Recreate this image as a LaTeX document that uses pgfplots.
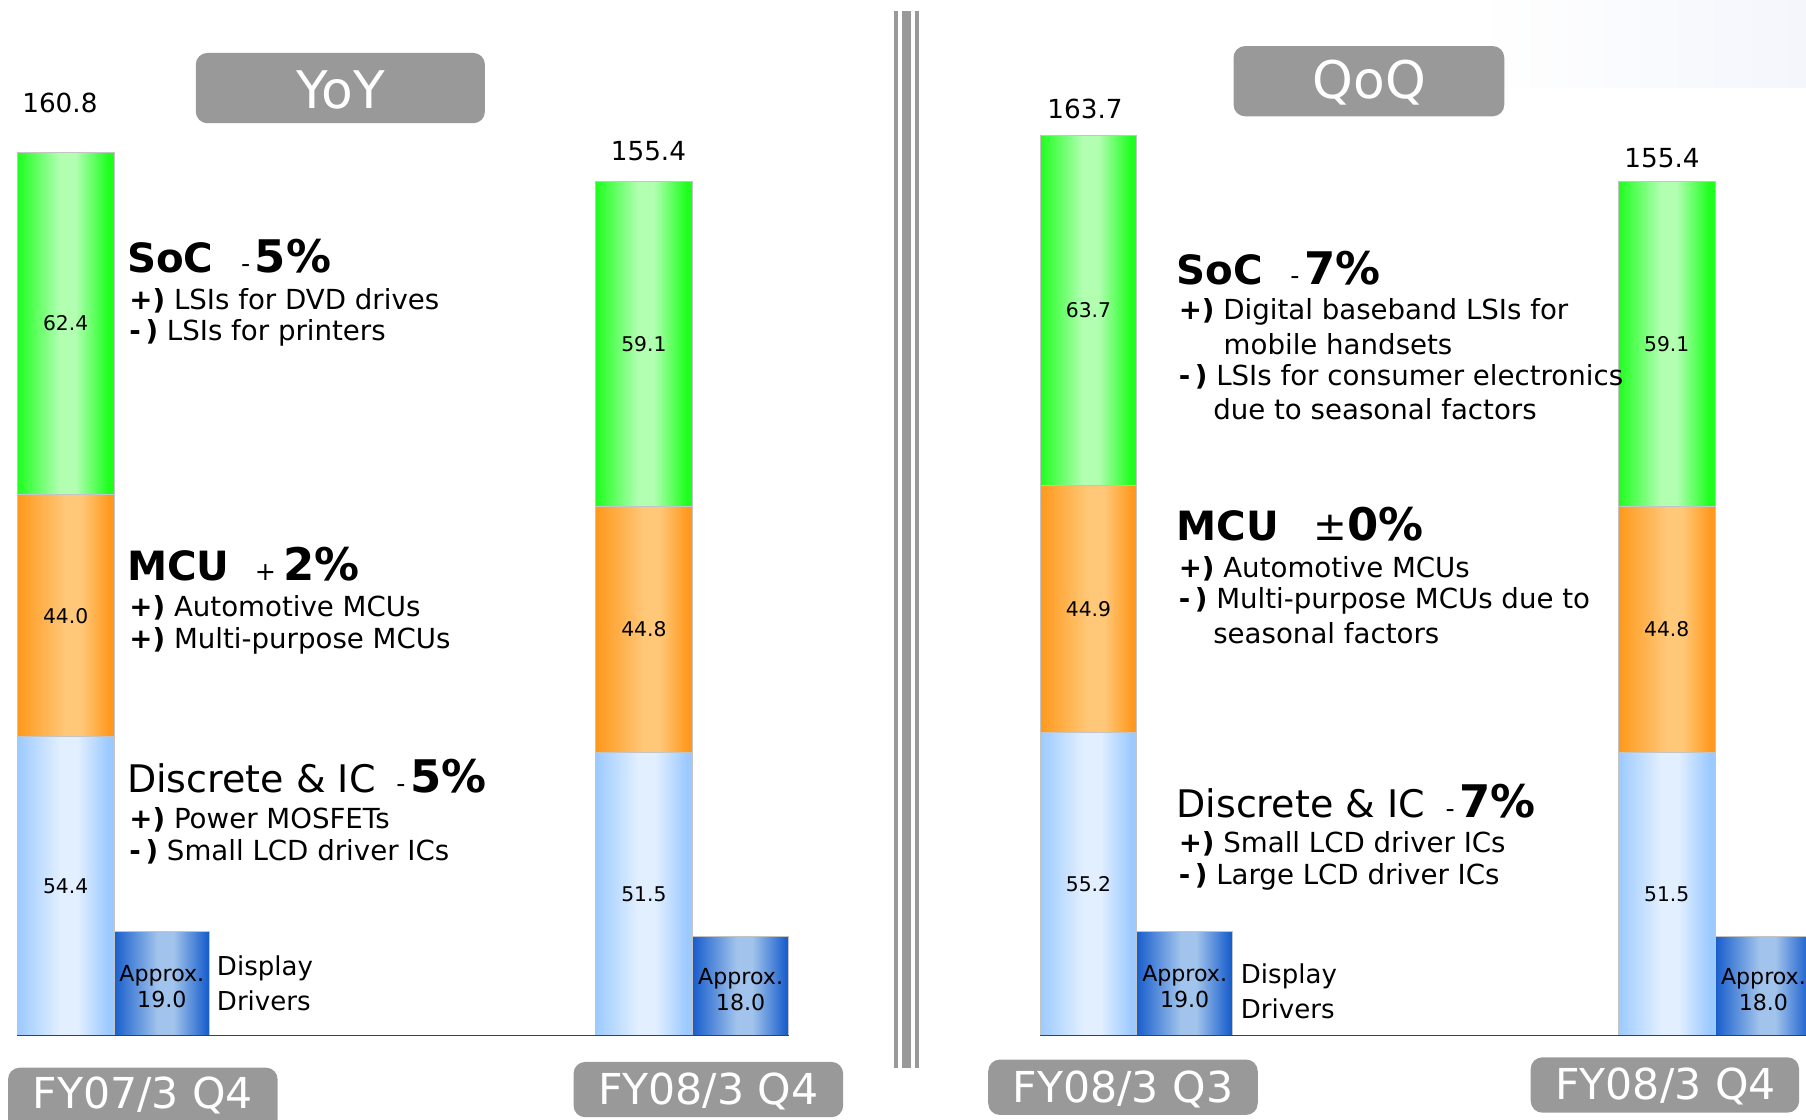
\documentclass[border=0pt]{standalone}
\usepackage{fontspec}
\setmainfont{DejaVu Sans}
\usepackage{pgfplots}
\usepackage{pgfplotstable}
\pgfplotsset{compat=1.18}

\definecolor{grn}{HTML}{1EFF1E}
\definecolor{grnl}{HTML}{B2FFB2}
\definecolor{org}{HTML}{FF981C}
\definecolor{orgl}{HTML}{FFC878}
\definecolor{lbl}{HTML}{9CCAFF}
\definecolor{lbll}{HTML}{E2EFFF}
\definecolor{dbl}{HTML}{185ECC}
\definecolor{dbll}{HTML}{A2C4EC}
\definecolor{boxgray}{HTML}{999999}
\definecolor{edge}{HTML}{C4C4C4}

% the bar itself spans 25bp..75bp of the shading
\pgfdeclarehorizontalshading{shgreen}{100bp}{color(0bp)=(grn); color(25bp)=(grn); color(47bp)=(grnl); color(55bp)=(grnl); color(72bp)=(grn); color(100bp)=(grn)}
\pgfdeclarehorizontalshading{shorange}{100bp}{color(0bp)=(org); color(25bp)=(org); color(50bp)=(orgl); color(58bp)=(orgl); color(73bp)=(org); color(100bp)=(org)}
\pgfdeclarehorizontalshading{shlblue}{100bp}{color(0bp)=(lbl); color(25bp)=(lbl); color(47bp)=(lbll); color(56bp)=(lbll); color(72bp)=(lbl); color(100bp)=(lbl)}
\pgfdeclarehorizontalshading{shdblue}{100bp}{color(0bp)=(dbl); color(25bp)=(dbl); color(48bp)=(dbll); color(56bp)=(dbll); color(74bp)=(dbl); color(100bp)=(dbl)}

% segments of the stacked bars (x = bar centre)
\pgfplotstableread{
x     dis   mcu   soc
57    54.4  44.0  62.4
559   51.5  44.8  59.1
945   55.2  44.9  63.7
1447  51.5  44.8  59.1
}\segs
% display drivers
\pgfplotstableread{
x      dd
140.5  19.0
643    18.0
1028.5 19.0
1531   18.0
}\drv

\newcommand{\hd}{\fontsize{17.5}{20}\selectfont\bfseries}
\newcommand{\hp}{\fontsize{19.5}{20}\selectfont\bfseries}
\newcommand{\hr}{\fontsize{16.5}{20}\selectfont}
\newcommand{\sg}{\fontsize{11}{12}\selectfont}
\newcommand{\sm}{\fontsize{12}{14}\selectfont}
\newcommand{\pl}{\textbf{+)}}
\newcommand{\mi}{\textbf{-\,)}}

\pgfplotsset{
  panel/.style={at={(0,0)}, anchor=south west, scale only axis,
    width=784pt, height=486pt, xmin=0, xmax=1568, ymin=-15.30, ymax=188.47,
    hide axis, /pgf/number format/assume math mode=true},
  seg/.style={shade, shading=#1, draw=edge, line width=0.4pt},
}

\begin{document}
\begin{tikzpicture}
\useasboundingbox (0,0) rectangle (784pt,486pt);

% faint shade top right
\shade[left color=white, right color={rgb,255:red,244;green,246;blue,252}] (640pt,448pt) rectangle (784pt,486pt);

\foreach \lo/\hi in {0/300, 400/760, 880/1180, 1300/1568} {
% stacked bars: labels already sit mid-segment
\begin{axis}[panel, ybar stacked, bar width=84, restrict x to domain=\lo:\hi,
  nodes near coords={\pgfmathprintnumber[fixed,fixed zerofill,precision=1]{\rawy}},
  every node near coord/.append style={anchor=center,
    font=\fontsize{8.8}{10}\selectfont, text=black}]
\addplot[seg=shlblue, visualization depends on={\thisrow{dis} \as \rawy}] table[x=x, y=dis] {\segs};
\addplot[seg=shorange, visualization depends on={\thisrow{mcu} \as \rawy}] table[x=x, y=mcu] {\segs};
\addplot[seg=shgreen, visualization depends on={\thisrow{soc} \as \rawy}] table[x=x, y=soc] {\segs};
\end{axis}
\begin{axis}[panel, ybar, bar width=83, restrict x to domain=\lo:\hi,
  nodes near coords={Approx.\\\pgfmathprintnumber[fixed,fixed zerofill,precision=1]{\rawy}},
  every node near coord/.append style={anchor=center, align=center,
    shift={(axis direction cs:0,-\rawy/2)}, yshift=-1.5pt,
    font=\fontsize{9.6}{11}\selectfont, text=black}]
\addplot[seg=shdblue, visualization depends on={\thisrow{dd} \as \rawy}] table[x=x, y=dd] {\drv};
\end{axis}
}

\begin{scope}[x=0.5pt, y=-0.5pt, shift={(0pt,486pt)}]
% baselines
\draw[line width=0.8pt, black!75] (15,899) -- (685,899);
\draw[line width=0.8pt, black!75] (903,899) -- (1568,899);
% separator
\fill[boxgray] (776,10) rectangle (780,927);
\fill[boxgray] (783,10) rectangle (791,927);
\fill[boxgray] (794,10) rectangle (798,927);
% title boxes
\fill[boxgray, rounded corners=5pt] (170,46) rectangle (421,107);
\node[text=white, font=\fontsize{22.5}{24}\selectfont] at (296,78) {YoY};
\fill[boxgray, rounded corners=5pt] (1071,40) rectangle (1306,101);
\node[text=white, font=\fontsize{22.5}{24}\selectfont] at (1189,72) {QoQ};
\fill[boxgray, rounded corners=5pt] (7,927) rectangle (241,1000);
\node[text=white, font=\fontsize{18.5}{20}\selectfont] at (124,951) {FY07/3 Q4};
\fill[boxgray, rounded corners=5pt] (498,922) rectangle (732,970);
\node[text=white, font=\fontsize{18.5}{20}\selectfont] at (615,948) {FY08/3 Q4};
\fill[boxgray, rounded corners=5pt] (858,920) rectangle (1092,968);
\node[text=white, font=\fontsize{18.5}{20}\selectfont] at (975,946) {FY08/3 Q3};
\fill[boxgray, rounded corners=5pt] (1329,918) rectangle (1562,966);
\node[text=white, font=\fontsize{18.5}{20}\selectfont] at (1446,943) {FY08/3 Q4};
% totals
\begin{scope}[every node/.style={font=\fontsize{11.4}{13}\selectfont}]
\node at (52,89) {160.8};
\node at (563,131) {155.4};
\node at (942,95) {163.7};
\node at (1443,137) {155.4};
\end{scope}
\begin{scope}[every node/.style={anchor=west, inner sep=0pt, font=\sm}]
% left panel texts
\node at (110,222) {{\hd SoC}\hspace{12pt}{\sg -}\hspace{2pt}{\hp 5\%}};
\node at (112,261) {\pl\ LSIs for DVD drives};
\node at (112,289) {\mi\ LSIs for printers};
\node at (110,490) {{\hd MCU}\hspace{11pt}{\sg +}\hspace{3pt}{\hp 2\%}};
\node at (112,528) {\pl\ Automotive MCUs};
\node at (112,556) {\pl\ Multi-purpose MCUs};
\node at (110,674) {{\hr Discrete \& IC}\hspace{9pt}{\sg -}\hspace{2pt}{\hp 5\%}};
\node at (112,712) {\pl\ Power MOSFETs};
\node at (112,740) {\mi\ Small LCD driver ICs};
\node[font=\fontsize{11.3}{14}\selectfont] at (188,841) {Display};
\node[font=\fontsize{11.3}{14}\selectfont] at (188,869) {Drivers};
% right panel texts
\node at (1021,233) {{\hd SoC}\hspace{12pt}{\sg -}\hspace{2pt}{\hp 7\%}};
\node at (1023,271) {\pl\ Digital baseband LSIs for};
\node at (1062,299) {mobile handsets};
\node at (1023,327) {\mi\ LSIs for consumer electronics};
\node at (1053,355) {due to seasonal factors};
\node at (1021,455) {{\hd MCU}\hspace{15pt}{\fontsize{17.5}{20}\selectfont ±}{\hp 0\%}};
\node at (1023,494) {\pl\ Automotive MCUs};
\node at (1023,522) {\mi\ Multi-purpose MCUs due to};
\node at (1053,550) {seasonal factors};
\node at (1021,696) {{\hr Discrete \& IC}\hspace{9pt}{\sg -}\hspace{2pt}{\hp 7\%}};
\node at (1023,733) {\pl\ Small LCD driver ICs};
\node at (1023,761) {\mi\ Large LCD driver ICs};
\node[font=\fontsize{11.3}{14}\selectfont] at (1077,848) {Display};
\node[font=\fontsize{11.3}{14}\selectfont] at (1077,876) {Drivers};
\end{scope}
\end{scope}
\end{tikzpicture}
\end{document}
